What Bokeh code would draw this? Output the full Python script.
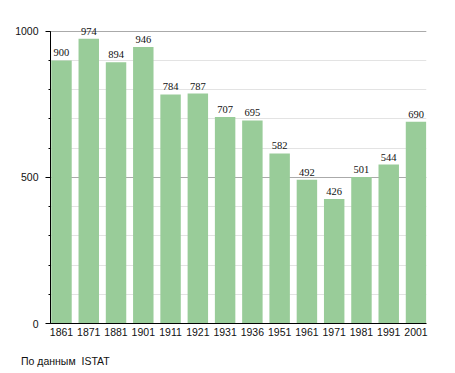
from bokeh.plotting import figure
from bokeh.layouts import column
from bokeh.models import (ColumnDataSource, LabelSet, SingleIntervalTicker,
                          FixedTicker, Range1d, Div)
from bokeh.embed import file_html
from bokeh.resources import INLINE

years = ["1861", "1871", "1881", "1901", "1911", "1921", "1931",
         "1936", "1951", "1961", "1971", "1981", "1991", "2001"]
population = [900, 974, 894, 946, 784, 787, 707, 695, 582, 492, 426, 501, 544, 690]
source_note = "По данным  ISTAT"

xs = list(range(len(years)))
src = ColumnDataSource(dict(x=xs, top=population,
                            label=[str(v) for v in population]))

FONT = "Liberation Sans"

p = figure(width=455, height=345, output_backend="svg", toolbar_location=None,
           x_range=Range1d(-0.403, 13.385), y_range=Range1d(0, 1030),
           min_border_left=50, min_border_right=29, min_border_top=22,
           min_border_bottom=22)
p.outline_line_color = None
p.background_fill_color = "white"
p.border_fill_color = "white"

p.vbar(x="x", top="top", width=0.75, bottom=0, source=src,
       fill_color="#99cc99", line_color=None)

labels = LabelSet(x="x", y="top", text="label", source=src,
                  text_align="center", text_baseline="alphabetic",
                  y_offset=4, text_font_size="10.5px", text_font=FONT,
                  text_color="#111111")
p.add_layout(labels)

# y axis
p.yaxis.ticker = SingleIntervalTicker(interval=500, num_minor_ticks=5)
p.yaxis.bounds = (0, 1000)
p.yaxis.axis_line_color = "black"
p.yaxis.major_tick_line_color = "black"
p.yaxis.major_tick_out = 5
p.yaxis.major_tick_in = 0
p.yaxis.minor_tick_line_color = "black"
p.yaxis.minor_tick_out = 2
p.yaxis.minor_tick_in = 0
p.yaxis.major_label_standoff = 7
p.yaxis.major_label_text_font = FONT
p.yaxis.major_label_text_font_size = "10.5px"
p.yaxis.major_label_text_color = "#111111"

# x axis
p.xaxis.ticker = FixedTicker(ticks=xs)
p.xaxis.major_label_overrides = {i: y for i, y in enumerate(years)}
p.xaxis.axis_line_color = "black"
p.xaxis.major_tick_line_color = None
p.xaxis.minor_tick_line_color = None
p.xaxis.major_tick_out = 0
p.xaxis.major_tick_in = 0
p.xaxis.major_label_standoff = 4
p.xaxis.major_label_text_font = FONT
p.xaxis.major_label_text_font_size = "10.5px"
p.xaxis.major_label_text_color = "#111111"

# grids
p.xgrid.grid_line_color = None
p.ygrid.bounds = (0, 1000)
p.ygrid.grid_line_color = "#aaaaaa"
p.ygrid.minor_grid_line_color = "#e3e3e3"

note = Div(text=source_note, render_as_text=True, width=455, height=28,
           styles={"font-family": FONT, "font-size": "10.5px",
                   "color": "#111111", "white-space": "pre",
                   "padding-left": "21px", "padding-top": "10px",
                   "margin": "0", "line-height": "13px"})

layout = column(p, note, spacing=0)

open("out.html", "w").write(file_html(layout, INLINE))
